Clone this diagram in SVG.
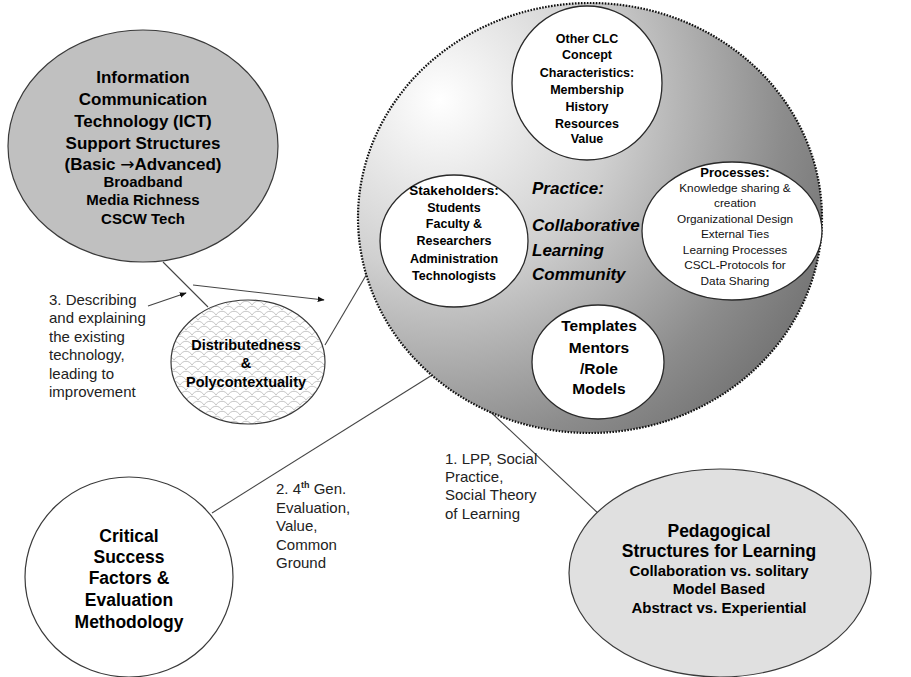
<svg xmlns="http://www.w3.org/2000/svg" width="911" height="677" viewBox="0 0 911 677">
<defs>
<radialGradient id="clcGrad" gradientUnits="userSpaceOnUse" cx="440" cy="100" r="430">
<stop offset="0" stop-color="#ffffff"/>
<stop offset="0.4" stop-color="#d0d0d0"/>
<stop offset="0.8" stop-color="#8c8c8c"/>
<stop offset="1" stop-color="#727272"/>
</radialGradient>
<pattern id="scales" patternUnits="userSpaceOnUse" width="12" height="10">
<rect width="12" height="10" fill="#ffffff"/>
<path d="M0 5 C3 0 9 0 12 5 M-6 10 C-3 5 3 5 6 10 M6 10 C9 5 15 5 18 10 M-6 0 C-3 -5 3 -5 6 0" fill="none" stroke="#b4b4b4" stroke-width="0.8"/>
</pattern>
<marker id="arrow" viewBox="0 0 10 10" refX="9" refY="5" markerWidth="7" markerHeight="7" orient="auto" markerUnits="userSpaceOnUse">
<path d="M0 1 L10 5 L0 9 z" fill="#111"/>
</marker>
</defs>
<style>
.nodeStroke{stroke:#3a3a3a;stroke-width:1.2}
.inner{fill:#ffffff;stroke:#2a2a2a;stroke-width:1.3}
.b{font-family:"Liberation Sans",Arial,sans-serif;font-weight:bold;fill:#000;text-anchor:middle}
.n{font-family:"Liberation Sans",Arial,sans-serif;fill:#111;text-anchor:middle}
.lbl{font-family:"Liberation Sans",Arial,sans-serif;font-size:15px;fill:#222}
.bi{font-family:"Liberation Sans",Arial,sans-serif;font-weight:bold;font-style:italic;font-size:17px;fill:#000}
.conn{stroke:#444;stroke-width:1.1;fill:none}
.sym{font-family:"DejaVu Sans",sans-serif}
</style>
<rect width="911" height="677" fill="#ffffff"/>

<g id="connectors">
<line class="conn" x1="163" y1="262" x2="208" y2="307"/>
<line class="conn" x1="193" y1="285" x2="324" y2="300" marker-end="url(#arrow)"/>
<line class="conn" x1="148" y1="306" x2="186" y2="293" marker-end="url(#arrow)"/>
<line class="conn" x1="325" y1="345" x2="368" y2="272"/>
<line class="conn" x1="212" y1="513" x2="437" y2="372"/>
<line class="conn" x1="480" y1="402" x2="600" y2="515"/>
</g>

<g id="ict">
<ellipse cx="143" cy="146" rx="135" ry="116" fill="#c0c0c0" class="nodeStroke"/>
<text class="b" font-size="17"><tspan x="143" y="83">Information</tspan><tspan x="143" y="105">Communication</tspan><tspan x="143" y="127">Technology (ICT)</tspan><tspan x="143" y="149">Support Structures</tspan><tspan x="143" y="170">(Basic <tspan class="sym" font-weight="normal">→</tspan>Advanced)</tspan></text>
<text class="b" font-size="15"><tspan x="143" y="187">Broadband</tspan><tspan x="143" y="205">Media Richness</tspan><tspan x="143" y="224">CSCW Tech</tspan></text>
</g>

<g id="clc">
<ellipse cx="590" cy="218" rx="232" ry="215" fill="url(#clcGrad)" stroke="#111" stroke-width="2.2" stroke-dasharray="1.6 1.4"/>
<text class="bi"><tspan x="532" y="194">Practice:</tspan><tspan x="532" y="231">Collaborative</tspan><tspan x="532" y="256">Learning</tspan><tspan x="532" y="280">Community</tspan></text>
</g>

<g id="other-clc">
<ellipse cx="587" cy="83" rx="75" ry="77" class="inner"/>
<text class="b" font-size="12.5"><tspan x="587" y="43">Other CLC</tspan><tspan x="587" y="59">Concept</tspan><tspan x="587" y="77">Characteristics:</tspan><tspan x="587" y="94">Membership</tspan><tspan x="587" y="111">History</tspan><tspan x="587" y="128">Resources</tspan><tspan x="587" y="143">Value</tspan></text>
</g>

<g id="stakeholders">
<ellipse cx="454" cy="241" rx="74" ry="66" class="inner"/>
<text class="b" font-size="13.5"><tspan x="454" y="195">Stakeholders:</tspan></text>
<text class="b" font-size="12.5"><tspan x="454" y="212">Students</tspan><tspan x="454" y="228">Faculty &amp;</tspan><tspan x="454" y="245">Researchers</tspan><tspan x="454" y="263">Administration</tspan><tspan x="454" y="280">Technologists</tspan></text>
</g>

<g id="processes">
<ellipse cx="732" cy="231" rx="90" ry="69" class="inner"/>
<text class="b" font-size="13"><tspan x="735" y="177">Processes:</tspan></text>
<text class="n" font-size="11.8"><tspan x="735" y="192">Knowledge sharing &amp;</tspan><tspan x="735" y="207">creation</tspan><tspan x="735" y="223">Organizational Design</tspan><tspan x="735" y="238">External Ties</tspan><tspan x="735" y="254">Learning Processes</tspan><tspan x="735" y="269">CSCL-Protocols for</tspan><tspan x="735" y="285">Data Sharing</tspan></text>
</g>

<g id="templates">
<ellipse cx="598" cy="362" rx="66" ry="57" class="inner"/>
<text class="b" font-size="15.5"><tspan x="599" y="331">Templates</tspan><tspan x="599" y="353">Mentors</tspan><tspan x="599" y="374">/Role</tspan><tspan x="599" y="394">Models</tspan></text>
</g>

<g id="distributedness">
<ellipse cx="248" cy="362" rx="77" ry="62" fill="url(#scales)" class="nodeStroke"/>
<text class="b" font-size="14.5"><tspan x="246" y="350">Distributedness</tspan><tspan x="246" y="368">&amp;</tspan><tspan x="246" y="387">Polycontextuality</tspan></text>
</g>

<g id="critical">
<ellipse cx="129" cy="577" rx="104" ry="100" fill="#ffffff" class="nodeStroke"/>
<text class="b" font-size="17.5"><tspan x="129" y="542">Critical</tspan><tspan x="129" y="563">Success</tspan><tspan x="129" y="584">Factors &amp;</tspan><tspan x="129" y="606">Evaluation</tspan><tspan x="129" y="628">Methodology</tspan></text>
</g>

<g id="pedagogical">
<ellipse cx="720" cy="573" rx="151" ry="104" fill="#e0e0e0" class="nodeStroke"/>
<text class="b" font-size="17.5"><tspan x="719" y="537">Pedagogical</tspan><tspan x="719" y="557">Structures for Learning</tspan></text>
<text class="b" font-size="15"><tspan x="719" y="576">Collaboration vs. solitary</tspan><tspan x="719" y="594">Model Based</tspan><tspan x="719" y="613">Abstract vs. Experiential</tspan></text>
</g>

<g id="labels">
<text class="lbl"><tspan x="49" y="305">3. Describing</tspan><tspan x="49" y="323">and explaining</tspan><tspan x="49" y="342">the existing</tspan><tspan x="49" y="360">technology,</tspan><tspan x="49" y="379">leading to</tspan><tspan x="49" y="397">improvement</tspan></text>
<text class="lbl"><tspan x="276" y="494">2. 4<tspan font-size="9" font-weight="bold" dy="-6">th</tspan><tspan dy="6"> Gen.</tspan></tspan><tspan x="276" y="513">Evaluation,</tspan><tspan x="276" y="531">Value,</tspan><tspan x="276" y="550">Common</tspan><tspan x="276" y="568">Ground</tspan></text>
<text class="lbl"><tspan x="445" y="464">1. LPP, Social</tspan><tspan x="445" y="482">Practice,</tspan><tspan x="445" y="500">Social Theory</tspan><tspan x="445" y="519">of Learning</tspan></text>
</g>
</svg>
